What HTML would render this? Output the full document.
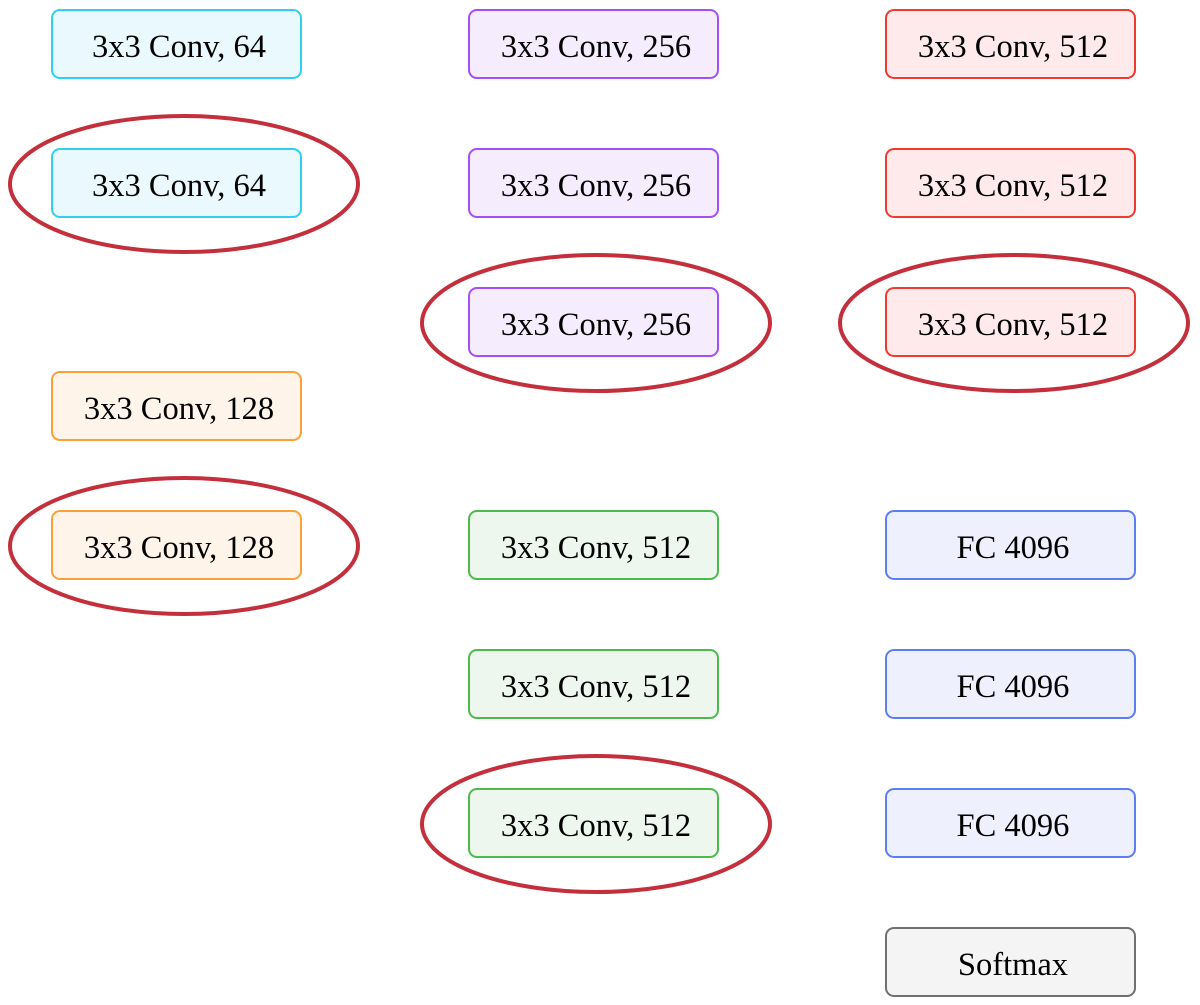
<!DOCTYPE html>
<html><head><meta charset="utf-8"><style>
html,body{margin:0;padding:0;background:#fff;width:1200px;height:1005px;overflow:hidden}
svg text{font-family:"Liberation Serif",serif;font-size:32.5px;fill:#000}
</style></head><body>
<svg id="d" width="1200" height="1005"></svg>
<script>
const labels=["3x3 Conv, 64","3x3 Conv, 64","3x3 Conv, 128","3x3 Conv, 128","3x3 Conv, 256","3x3 Conv, 256","3x3 Conv, 256","3x3 Conv, 512","3x3 Conv, 512","3x3 Conv, 512","3x3 Conv, 512","3x3 Conv, 512","3x3 Conv, 512","FC 4096","FC 4096","FC 4096","Softmax"];
const cols=[0,0,0,0,1,1,1,1,1,1,2,2,2,2,2,2,2];
const rows=[0,1,3,4,0,1,2,4,5,6,0,1,2,4,5,6,7];
const groups=["c64","c64","c128","c128","c256","c256","c256","c512a","c512a","c512a","c512b","c512b","c512b","fc","fc","fc","sm"];
const highlighted=[0,1,0,1,0,0,1,0,0,1,0,0,1,0,0,0,0];
const colorsStroke={c64:"#2fcfef",c128:"#f9a03a",c256:"#a64ff0",c512a:"#4cbb4c",c512b:"#ee3a30",fc:"#5c7ef0",sm:"#707070"};
const colorsFill={c64:"#eaf9fe",c128:"#fff4ea",c256:"#f5ecfe",c512a:"#edf7ed",c512b:"#feeaea",fc:"#eef1fd",sm:"#f4f4f4"};
const colX=c=>51+c*417;
const ellOff=[133,128,129];
const rowY=[9,148,287,371,510,649,788,927];
const NS="http://www.w3.org/2000/svg";
const svg=document.getElementById('d');
function mk(t,a){const e=document.createElementNS(NS,t);for(const k in a)e.setAttribute(k,a[k]);return e;}
labels.forEach((lab,i)=>{
  const x=colX(cols[i]),y=rowY[rows[i]];
  const g=mk('g',{});
  
  
  g.appendChild(mk('rect',{x:x+1,y:y+1,width:249,height:68,rx:8,fill:colorsFill[groups[i]],stroke:colorsStroke[groups[i]],'stroke-width':2}));
  const t=mk('text',{x:x+128,y:y+48,'text-anchor':'middle'});
  t.textContent=lab;
  g.appendChild(t);
  svg.appendChild(g);
  if(highlighted[i]){
    const e=mk('ellipse',{cx:x+ellOff[cols[i]],cy:y+36,rx:174,ry:68,fill:'none',stroke:'#c42f3c','stroke-width':4});
    
    
    svg.appendChild(e);
  }
});
</script>
</body></html>
